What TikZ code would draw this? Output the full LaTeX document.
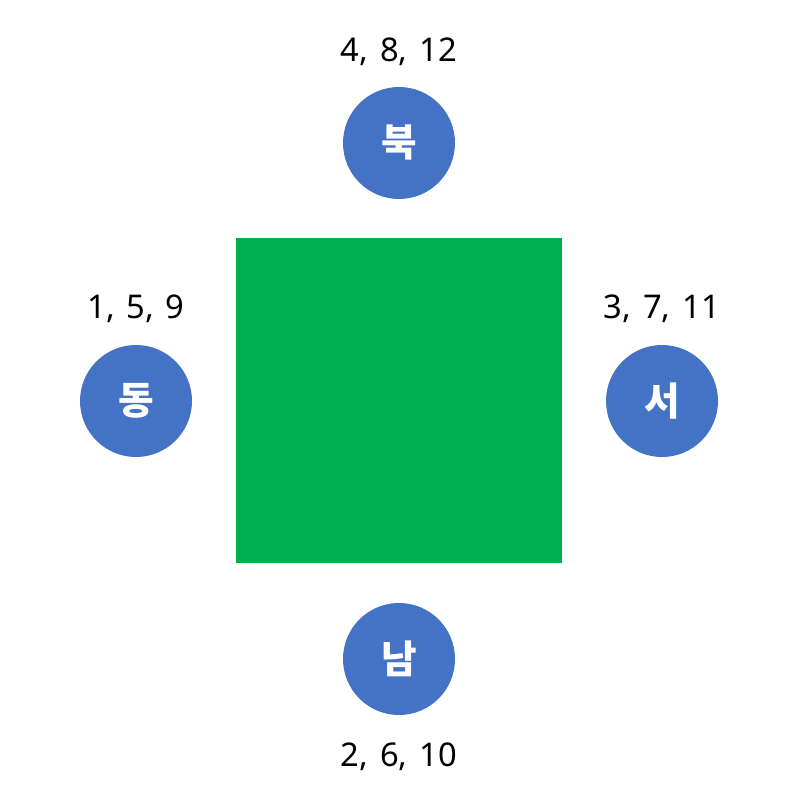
\documentclass[tikz,border=0pt]{standalone}
\usepackage{fontspec}
\setmainfont{Noto Sans}
\newfontfamily\hangul{Noto Sans CJK KR}
\newfontfamily\turnsfont{Noto Sans}[WordSpace=1.4]
\usepackage{tikz}
\usetikzlibrary{shapes}
\definecolor{boardgreen}{RGB}{0,176,80}
\definecolor{seatblue}{RGB}{68,114,196}
\tikzstyle{board} = [rectangle, fill=boardgreen, minimum width=244.5pt, minimum height=243.75pt, inner sep=0pt]
\tikzstyle{seat} = [circle, fill=seatblue, minimum size=84pt, inner sep=0pt, text=white, font=\hangul\bfseries\fontsize{29}{29}\selectfont]
\tikzstyle{turns} = [anchor=base, inner sep=0pt, font=\turnsfont\fontsize{24.5}{24.5}\selectfont]

\begin{document}
\begin{tikzpicture}[x=0.75pt, y=-0.75pt]
    \useasboundingbox (0,0) rectangle (797,805);
    \node[board] (table) at (399,400.5) {};
    \node[seat] (north) at (399,143) {북};
    \node[seat] (east) at (136,401) {동};
    \node[seat] (west) at (662,401) {서};
    \node[seat] (south) at (399,659) {남};
    \node[turns] (northturns) at (399,62) {4, 8, 12};
    \node[turns] (eastturns) at (136,318) {1, 5, 9};
    \node[turns] (westturns) at (662,318) {3, 7, 11};
    \node[turns] (southturns) at (399,766) {2, 6, 10};
  \end{tikzpicture}
\end{document}
